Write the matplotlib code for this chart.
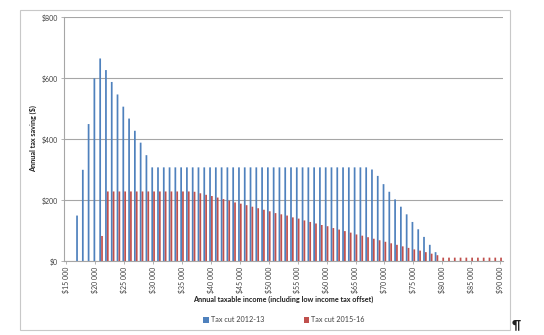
import matplotlib
matplotlib.use("Agg")
import matplotlib.pyplot as plt
from matplotlib.patches import Rectangle
import numpy as np

plt.rcParams['font.family'] = ['Lato', 'DejaVu Sans']

incomes = [15000, 16000, 17000, 18000, 19000, 20000, 21000, 22000, 23000, 24000,
           25000, 26000, 27000, 28000, 29000, 30000, 31000, 32000, 33000, 34000,
           35000, 36000, 37000, 38000, 39000, 40000, 41000, 42000, 43000, 44000,
           45000, 46000, 47000, 48000, 49000, 50000, 51000, 52000, 53000, 54000,
           55000, 56000, 57000, 58000, 59000, 60000, 61000, 62000, 63000, 64000,
           65000, 66000, 67000, 68000, 69000, 70000, 71000, 72000, 73000, 74000,
           75000, 76000, 77000, 78000, 79000, 80000, 81000, 82000, 83000, 84000,
           85000, 86000, 87000, 88000, 89000, 90000]

cut_2012_13 = [0, 0, 150, 300, 450, 600, 665, 627, 588, 547,
               507, 468, 428, 389, 348, 308, 308, 308, 308, 308,
               308, 308, 308, 308, 308, 308, 308, 308, 308, 308,
               308, 308, 308, 308, 308, 308, 308, 308, 308, 308,
               308, 308, 308, 308, 308, 308, 308, 308, 308, 308,
               308, 308, 308, 301, 280, 253, 228, 203, 179, 154,
               129, 105, 80, 54, 30, 0, 0, 0, 0, 0,
               0, 0, 0, 0, 0, 0]

cut_2015_16 = [0, 0, 0, 0, 0, 0, 83, 229, 229, 229,
               229, 229, 229, 229, 229, 229, 229, 229, 229, 229,
               229, 229, 228, 223, 218, 214, 209, 204, 199, 193,
               189, 184, 179, 174, 169, 164, 158, 154, 150, 144,
               140, 134, 129, 124, 119, 115, 109, 104, 99, 94,
               88, 84, 79, 74, 69, 64, 59, 54, 49, 44,
               39, 35, 30, 25, 20, 12, 12, 12, 12, 12,
               12, 12, 12, 12, 12, 12]

tick_labels = ["$15 000", "$20 000", "$25 000", "$30 000", "$35 000", "$40 000",
               "$45 000", "$50 000", "$55 000", "$60 000", "$65 000", "$70 000",
               "$75 000", "$80 000", "$85 000", "$90 000"]
y_ticks = [0, 200, 400, 600, 800]
y_tick_labels = ["$0", "$200", "$400", "$600", "$800"]

series_names = ["Tax cut 2012-13", "Tax cut 2015-16"]
blue = "#4F81BD"
red = "#C0504D"

W, H = 544, 335
fig = plt.figure(figsize=(W / 100, H / 100), dpi=100)
fig.patch.set_facecolor("white")

# outer chart border
fig.patches.append(Rectangle((20 / W, 1 - 330 / H), (510 - 20) / W, (330 - 10) / H,
                             transform=fig.transFigure, fill=False,
                             edgecolor="#C8C8C8", linewidth=0.8))

left, right = 63.5 / W, 503 / W
bottom, top = 1 - 261.3 / H, 1 - 17.3 / H
ax = fig.add_axes([left, bottom, right - left, top - bottom])

x = np.arange(len(incomes))
bw = 0.3
off = 0.16
b1 = ax.bar(x - off, cut_2012_13, width=bw, color=blue, linewidth=0, zorder=3,
            label=series_names[0])
b2 = ax.bar(x + off, cut_2015_16, width=bw, color=red, linewidth=0, zorder=3,
            label=series_names[1])
for p in list(b1) + list(b2):
    p.set_snap(False)

ax.set_xlim(-0.5, len(incomes) - 0.5)
ax.set_ylim(0, 800)

ax.set_yticks(y_ticks)
ax.set_yticklabels(y_tick_labels, fontsize=5, color="#404040")
ax.yaxis.grid(True, color="#A6A6A6", linewidth=0.8, zorder=0)
ax.set_axisbelow(True)

label_idx = [incomes.index(int(t.replace("$", "").replace(" ", ""))) for t in tick_labels]
ax.set_xticks(label_idx)
ax.set_xticklabels(tick_labels, rotation=90, fontsize=5, color="#404040")

for s in ["top", "right"]:
    ax.spines[s].set_visible(False)
for s in ["left", "bottom"]:
    ax.spines[s].set_color("#A6A6A6")
    ax.spines[s].set_linewidth(0.8)
ax.tick_params(axis="both", length=2, width=0.6, color="#A6A6A6", pad=2)

fig.text(283 / W, 1 - 299 / H,
         "Annual taxable income (including low income tax offset)",
         ha="center", va="center", fontsize=5.2, fontweight="bold", color="#202020")
fig.text(33 / W, 1 - 139 / H, "Annual tax saving ($)", rotation=90,
         ha="center", va="center", fontsize=5.2, fontweight="bold", color="#202020")

fig.legend(handles=[b1, b2], labels=series_names, loc="center",
           bbox_to_anchor=(284 / W, 1 - 320 / H), ncol=2, frameon=False,
           fontsize=5.2, handlelength=0.7, handleheight=0.7, handletextpad=0.3,
           columnspacing=5.5, labelcolor="#404040")

fig.text(516 / W, 1 - 325 / H, "\u00b6", ha="center", va="center",
         fontsize=9, fontweight="bold", color="#202020")

fig.savefig("out.png", dpi=100, facecolor="white")
